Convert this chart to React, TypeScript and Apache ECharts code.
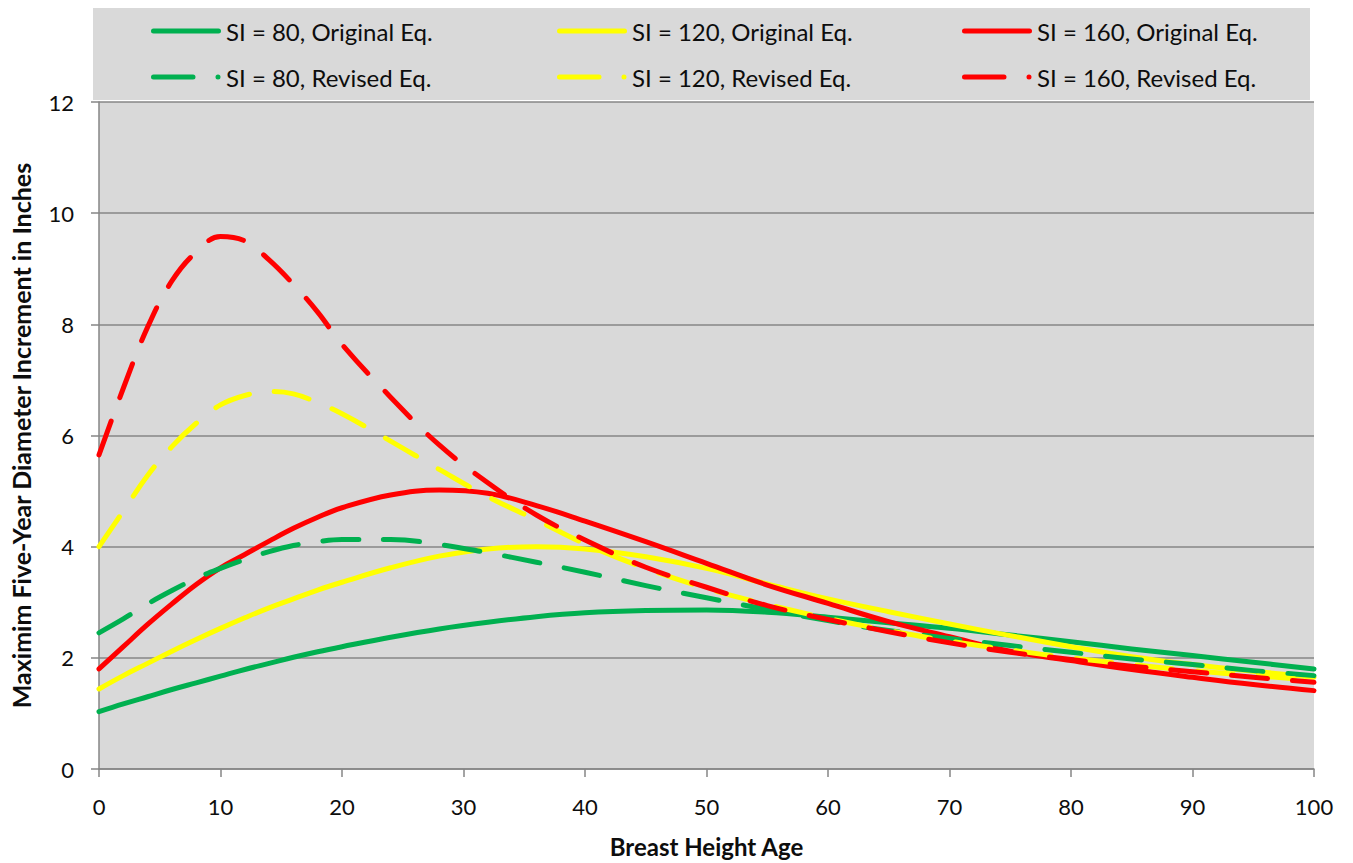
import React, { useEffect, useRef } from "react";
import * as echarts from "echarts";

const ages = [0, 2, 4, 6, 8, 10, 12, 14, 16, 18, 20, 24, 28, 32, 36, 40, 45, 50, 55, 60, 65, 70, 75, 80, 85, 90, 95, 100];

const si80Original = [1.03, 1.17, 1.3, 1.43, 1.55, 1.67, 1.79, 1.9, 2.01, 2.11, 2.2, 2.37, 2.52, 2.64, 2.74, 2.81, 2.85, 2.86, 2.82, 2.73, 2.63, 2.53, 2.41, 2.29, 2.16, 2.04, 1.92, 1.8];
const si120Original = [1.44, 1.68, 1.9, 2.12, 2.33, 2.53, 2.72, 2.9, 3.06, 3.22, 3.36, 3.62, 3.83, 3.96, 4.0, 3.96, 3.82, 3.61, 3.33, 3.06, 2.83, 2.61, 2.4, 2.2, 2.02, 1.88, 1.76, 1.65];
const si160Original = [1.8, 2.2, 2.6, 2.97, 3.32, 3.62, 3.86, 4.1, 4.33, 4.53, 4.7, 4.93, 5.02, 4.96, 4.74, 4.46, 4.09, 3.7, 3.31, 2.98, 2.65, 2.38, 2.12, 1.95, 1.79, 1.65, 1.52, 1.41];
const si80Revised = [2.45, 2.7, 2.97, 3.21, 3.43, 3.61, 3.77, 3.91, 4.02, 4.09, 4.13, 4.13, 4.04, 3.89, 3.72, 3.54, 3.3, 3.08, 2.87, 2.67, 2.49, 2.35, 2.22, 2.1, 1.98, 1.88, 1.77, 1.68];
const si120Revised = [4.0, 4.64, 5.28, 5.8, 6.22, 6.55, 6.72, 6.79, 6.75, 6.59, 6.39, 5.9, 5.39, 4.9, 4.48, 4.05, 3.61, 3.25, 2.96, 2.71, 2.49, 2.3, 2.14, 2.0, 1.88, 1.77, 1.68, 1.6];
const si160Revised = [5.65, 6.85, 7.95, 8.78, 9.3, 9.58, 9.5, 9.16, 8.72, 8.22, 7.64, 6.69, 5.83, 5.15, 4.57, 4.12, 3.63, 3.27, 2.94, 2.69, 2.47, 2.27, 2.1, 1.97, 1.85, 1.75, 1.65, 1.56];

const seriesNames = [
  "SI = 80, Original Eq.",
  "SI = 120, Original Eq.",
  "SI = 160, Original Eq.",
  "SI = 80, Revised Eq.",
  "SI = 120, Revised Eq.",
  "SI = 160, Revised Eq.",
];
const seriesValues = [si80Original, si120Original, si160Original, si80Revised, si120Revised, si160Revised];
const seriesColors = ["#00B050", "#FFFF00", "#FF0000", "#00B050", "#FFFF00", "#FF0000"];
const seriesDashed = [false, false, false, true, true, true];

const xTicks = { min: 0, max: 100, interval: 10 };
const yTicks = { min: 0, max: 12, interval: 2 };

const FONT = "Lato";

const SOLID_ICON =
  "path://M0,0 M70,26 M2.5,10.5 H67.5 A2.5,2.5 0 0 1 67.5,15.5 H2.5 A2.5,2.5 0 0 1 2.5,10.5 Z";
const DASH_ICON =
  "path://M0,0 M70,26 M2.5,10.5 H42 A2.5,2.5 0 0 1 42,15.5 H2.5 A2.5,2.5 0 0 1 2.5,10.5 Z M64.5,13 A2.5,2.5 0 1 1 69.5,13 A2.5,2.5 0 1 1 64.5,13 Z";

export default function App() {
  const ref = useRef<HTMLDivElement>(null);

  useEffect(() => {
    document.body.style.margin = "0";
    const chart = echarts.init(ref.current!, null, { renderer: "svg" });

    const series = seriesNames.map((name, i) => ({
      name,
      type: "line",
      data: ages.map((a, j) => [a, seriesValues[i][j]]),
      smooth: 0.4,
      symbol: "none",
      showSymbol: false,
      lineStyle: {
        color: seriesColors[i],
        width: 5,
        type: seriesDashed[i] ? [36, 25] : "solid",
        cap: "round",
        join: "round",
      },
      itemStyle: { color: seriesColors[i] },
      z: 2 + i,
    }));

    const legendCol = (idx: number, left: number) => ({
      show: true,
      orient: "vertical",
      left,
      top: 18,
      itemWidth: 70,
      itemHeight: 26,
      itemGap: 20,
      padding: 0,
      data: [
        { name: seriesNames[idx], icon: SOLID_ICON, itemStyle: { color: seriesColors[idx], borderWidth: 0 } },
        { name: seriesNames[idx + 3], icon: DASH_ICON, itemStyle: { color: seriesColors[idx + 3], borderWidth: 0 } },
      ],
      textStyle: { fontFamily: FONT, fontSize: 24, color: "#0d0d0d", lineHeight: 26 },
      selectedMode: false,
    });

    chart.setOption({
      animation: false,
      backgroundColor: "#ffffff",
      textStyle: { fontFamily: FONT },
      graphic: [
        {
          type: "rect",
          shape: { x: 93, y: 8, width: 1217, height: 92 },
          style: { fill: "#D9D9D9" },
          z: -10,
        },
      ],
      legend: [legendCol(0, 151), legendCol(1, 557), legendCol(2, 962)],
      grid: {
        left: 97,
        right: 39,
        top: 102,
        bottom: 89,
        show: true,
        backgroundColor: "#D9D9D9",
        borderWidth: 0,
        containLabel: false,
      },
      xAxis: {
        type: "value",
        min: xTicks.min,
        max: xTicks.max,
        interval: xTicks.interval,
        name: "Breast Height Age",
        nameLocation: "middle",
        nameGap: 65,
        nameTextStyle: { fontFamily: FONT, fontSize: 24, fontWeight: "bold", color: "#0d0d0d" },
        axisLine: { show: true, lineStyle: { color: "#868686", width: 1.5 } },
        axisTick: { show: true, inside: false, length: 8, lineStyle: { color: "#868686", width: 1.5 } },
        axisLabel: { fontFamily: FONT, fontSize: 22, color: "#0d0d0d", margin: 26 },
        splitLine: { show: false },
      },
      yAxis: {
        type: "value",
        min: yTicks.min,
        max: yTicks.max,
        interval: yTicks.interval,
        name: "Maximim Five-Year Diameter Increment in Inches",
        nameLocation: "middle",
        nameGap: 66,
        nameTextStyle: { fontFamily: FONT, fontSize: 25, fontWeight: "bold", color: "#0d0d0d" },
        axisLine: { show: true, lineStyle: { color: "#868686", width: 1.5 } },
        axisTick: { show: true, inside: false, length: 8, lineStyle: { color: "#868686", width: 1.5 } },
        axisLabel: { fontFamily: FONT, fontSize: 22, color: "#0d0d0d", margin: 25 },
        splitLine: { show: true, lineStyle: { color: "#868686", width: 1.5 } },
      },
      series,
    });

    return () => chart.dispose();
  }, []);

  return <div ref={ref} style={{ width: 1353, height: 863 }} />;
}
